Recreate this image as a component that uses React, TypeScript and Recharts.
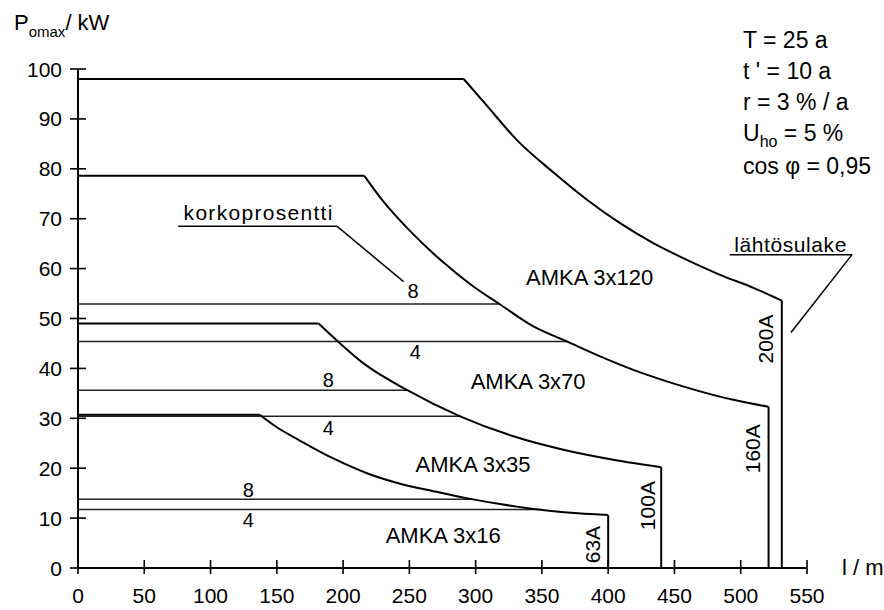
import React from 'react';
import { LineChart, Line, XAxis, YAxis, ReferenceLine, ReferenceDot } from 'recharts';

const FONT = '"Liberation Sans", Arial, sans-serif';

const xTicks = [0, 50, 100, 150, 200, 250, 300, 350, 400, 450, 500, 550];
const yTicks = [0, 10, 20, 30, 40, 50, 60, 70, 80, 90, 100];

// limit curves, l in m, P in kW (flat part ends where the curve starts)
const fuse200L = [0, 291, 308, 331, 359, 384, 409, 434, 459, 484, 510, 531];
const fuse200P = [98, 98, 92.8, 85.8, 79.2, 73.8, 69.1, 65.1, 61.8, 58.8, 56.1, 53.6];

const fuse160L = [0, 216, 230.5, 250.6, 273.2, 298.3, 318.5, 343.6, 368.8, 393.9, 419, 444.2, 469.3, 494.4, 521];
const fuse160P = [78.6, 78.6, 73.4, 67.5, 61.8, 56.4, 52.8, 48.4, 45.4, 42.4, 39.7, 37.4, 35.4, 33.7, 32.3];

const fuse100L = [0, 181.5, 195.3, 215.4, 248.1, 288.3, 328.5, 366.2, 403.9, 440];
const fuse100P = [49, 49, 45.6, 41.0, 35.7, 30.4, 26.4, 23.7, 21.7, 20.2];

const fuse63L = [0, 137, 150, 167, 193, 218, 243, 268, 293, 331, 369, 400];
const fuse63P = [30.7, 30.7, 28.2, 25.6, 21.9, 19.0, 16.9, 15.4, 14.0, 12.3, 11.1, 10.6];

// korkoprosentti lines (8 % and 4 %)
const rate8P = [52.9, 35.6, 13.8];
const rate8End = [318.5, 248, 297];
const rate4P = [45.4, 30.4, 11.7];
const rate4End = [369, 289, 350];

const cableLabels = ['AMKA 3x120', 'AMKA 3x70', 'AMKA 3x35', 'AMKA 3x16'];
const cableLabelL = [386, 339.6, 298, 275.5];
const cableLabelP = [58.2, 37.4, 20.7, 6.5];

const fuseLabels = ['200A', '160A', '100A', '63A'];
const fuseLabelL = [519, 508.9, 429.7, 388.2];
const fuseLabelP = [45.9, 23.9, 12.5, 4.7];

const rateLabels = ['8', '4', '8', '4', '8', '4'];
const rateLabelL = [252.8, 254.5, 188.8, 188.8, 128.4, 128.4];
const rateLabelP = [55.6, 43.2, 37.7, 28.1, 15.7, 9.7];

const params = ['T = 25 a', "t ' = 10 a", 'r = 3 % / a', 'U_ho = 5 %', 'cos φ = 0,95'];

const zip = (ls: number[], ps: number[]) => ls.map((l, i) => ({ l, p: ps[i] }));

// each limit curve: flat top, smooth falling part, vertical fuse limit
const curves = [
    { name: '200A', l: fuse200L, p: fuse200P },
    { name: '160A', l: fuse160L, p: fuse160P },
    { name: '100A', l: fuse100L, p: fuse100P },
    { name: '63A', l: fuse63L, p: fuse63P },
].flatMap(c => {
    const n = c.l.length;
    return [
        { name: `${c.name}-flat`, type: 'linear', data: zip(c.l.slice(0, 2), c.p.slice(0, 2)) },
        { name: `${c.name}-curve`, type: 'monotoneX', data: zip(c.l.slice(1), c.p.slice(1)) },
        { name: `${c.name}-fuse`, type: 'linear', data: zip([c.l[n - 1], c.l[n - 1]], [c.p[n - 1], 0]) },
    ];
});

const rateLines = [
    ...rate8P.map((p, i) => ({ name: `r8-${i}`, data: zip([0, rate8End[i]], [p, p]) })),
    ...rate4P.map((p, i) => ({ name: `r4-${i}`, data: zip([0, rate4End[i]], [p, p]) })),
];

const XTick = (props: any) => {
    const { x, y, payload } = props;
    const ay = y - 8;
    return (
        <g>
            <line x1={x} x2={x} y1={ay - 8} y2={ay + 6} stroke="#000" strokeWidth={1.6} />
            <text x={x} y={ay + 35} textAnchor="middle" fontSize={21} fontFamily={FONT} fill="#000">{payload.value}</text>
        </g>
    );
};

const YTick = (props: any) => {
    const { x, y, payload } = props;
    const ax = x + 8;
    return (
        <g>
            <line x1={ax - 8} x2={ax + 8} y1={y} y2={y} stroke="#000" strokeWidth={1.6} />
            <text x={ax - 16} y={y} dy="0.36em" textAnchor="end" fontSize={21} fontFamily={FONT} fill="#000">{payload.value}</text>
        </g>
    );
};

const plainText = (text: string, size: number, extra: any = {}) => (p: any) => (
    <text x={p.cx} y={p.cy} textAnchor="middle" dominantBaseline="central" fontSize={size} fontFamily={FONT} fill="#000" {...extra}>{text}</text>
);

const rotText = (text: string) => (p: any) => (
    <text x={p.cx} y={p.cy} transform={`rotate(-90 ${p.cx} ${p.cy})`} textAnchor="middle" dominantBaseline="central" fontSize={21} fontFamily={FONT} fill="#000">{text}</text>
);

export default function App() {
    return (
        <div style={{ position: 'absolute', left: 0, top: 0, width: 884, height: 610, background: '#fff', fontFamily: FONT }}>
            <LineChart width={884} height={610} margin={{ top: 69, right: 77, bottom: 12, left: 18 }}>
                <XAxis type="number" dataKey="l" domain={[0, 550]} ticks={xTicks} allowDataOverflow
                    height={30} tickSize={8} tickMargin={0} tickLine={false} tick={<XTick />}
                    axisLine={{ stroke: '#000', strokeWidth: 2 }} />
                <YAxis type="number" dataKey="p" domain={[0, 100]} ticks={yTicks} allowDataOverflow
                    width={60} tickSize={8} tickMargin={0} tickLine={false} tick={<YTick />}
                    axisLine={{ stroke: '#000', strokeWidth: 2 }} />

                {rateLines.map(r => (
                    <Line key={r.name} data={r.data} dataKey="p" type="linear" stroke="#222" strokeWidth={1.5}
                        dot={false} activeDot={false} isAnimationActive={false} />
                ))}
                {curves.map(c => (
                    <Line key={c.name} data={c.data} dataKey="p" type={c.type as any} stroke="#000" strokeWidth={2}
                        dot={false} activeDot={false} isAnimationActive={false} />
                ))}

                {/* korkoprosentti leader */}
                <ReferenceLine segment={[{ x: 75.6, y: 68.5 }, { x: 195.3, y: 68.5 }]} stroke="#000" strokeWidth={1.5} ifOverflow="visible" />
                <ReferenceLine segment={[{ x: 195.3, y: 68.5 }, { x: 245.6, y: 57.4 }]} stroke="#000" strokeWidth={1.5} ifOverflow="visible" />
                {/* lähtösulake leader */}
                <ReferenceLine segment={[{ x: 491.7, y: 62.8 }, { x: 584, y: 62.8 }]} stroke="#000" strokeWidth={1.5} ifOverflow="visible" />
                <ReferenceLine segment={[{ x: 584, y: 62.8 }, { x: 537.9, y: 47.2 }]} stroke="#000" strokeWidth={1.5} ifOverflow="visible" />

                <ReferenceDot x={136.3} y={71.2} r={0} shape={plainText('korkoprosentti', 21, { letterSpacing: 1.3 })} />
                <ReferenceDot x={537.6} y={64.8} r={0} shape={plainText('lähtösulake', 21, { letterSpacing: 0.6 })} />

                {cableLabels.map((t, i) => (
                    <ReferenceDot key={t} x={cableLabelL[i]} y={cableLabelP[i]} r={0} shape={plainText(t, 22)} />
                ))}
                {fuseLabels.map((t, i) => (
                    <ReferenceDot key={t} x={fuseLabelL[i]} y={fuseLabelP[i]} r={0} shape={rotText(t)} />
                ))}
                {rateLabels.map((t, i) => (
                    <ReferenceDot key={`rl${i}`} x={rateLabelL[i]} y={rateLabelP[i]} r={0} shape={plainText(t, 20)} />
                ))}
            </LineChart>

            <div style={{ position: 'absolute', left: 14, top: 9, fontSize: 22, whiteSpace: 'nowrap', lineHeight: '28px' }}>
                P<span style={{ fontSize: 15, position: 'relative', top: 7 }}>omax</span>/ kW
            </div>
            <div style={{ position: 'absolute', left: 842, top: 554, fontSize: 22, whiteSpace: 'nowrap', lineHeight: '28px' }}>
                l / m
            </div>
            <div style={{ position: 'absolute', left: 743, top: 25, fontSize: 23, lineHeight: '31px', whiteSpace: 'nowrap' }}>
                {params.map(t => {
                    if (t.startsWith('U_ho')) {
                        return (
                            <div key={t}>U<span style={{ fontSize: 16, position: 'relative', top: 6 }}>ho</span>{t.slice(4)}</div>
                        );
                    }
                    return <div key={t}>{t}</div>;
                })}
            </div>
        </div>
    );
}
